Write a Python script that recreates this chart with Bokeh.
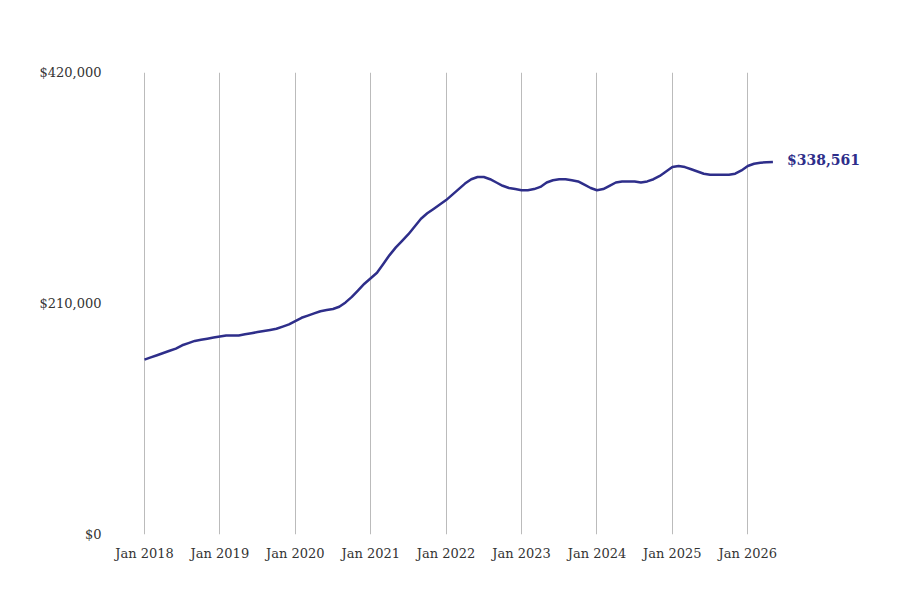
from bokeh.plotting import figure
from bokeh.models import Range1d, FixedTicker, Label, NumeralTickFormatter
from bokeh.embed import file_html
from bokeh.resources import INLINE

years = list(range(2018, 2027))
tick_labels = {y: f"Jan {y}" for y in years}
values_k = [
 159,161,163,165,167,169,172,174,176,177,178,179,
 180,181,181,181,182,183,184,185,186,187,189,191,
 194,197,199,201,203,204,205,207,211,216,222,228,
 233,238,246,254,261,267,273,280,287,292,296,300,
 304,309,314,319,323,325,325,323,320,317,315,314,
 313,313,314,316,320,322,323,323,322,321,318,315,
 313,314,317,320,321,321,321,320,321,323,326,330,
 334,335,334,332,330,328,327,327,327,327,328,331,
 335,337,338,338.3,338.561]
values = [v * 1000 for v in values_k]
xs = [2018 + i / 12 for i in range(len(values))]
last_label = "$338,561"
title_text = "Home Values in Downey, ID"
source_text = "Source: Zillow. Data represents monthly typical home value"

FONT = "DejaVu Serif"
p = figure(width=884, height=584, output_backend="svg", toolbar_location=None,
           x_range=Range1d(2017.576, 2027.76), y_range=Range1d(0, 420000),
           min_border_left=112, min_border_right=4, min_border_top=72, min_border_bottom=50)
p.outline_line_color = None

p.line(xs, values, line_color="#2e2e8a", line_width=2.5)
p.add_layout(Label(x=xs[-1], y=values[-1], text=last_label, x_offset=14, y_offset=-6,
                   text_font=FONT, text_font_size="14px", text_font_style="bold",
                   text_color="#2e2e8a"))
p.add_layout(Label(x=349, y=491, x_units="screen", y_units="screen", text=title_text,
                   text_align="center", text_baseline="middle", text_font=FONT,
                   text_font_size="25px", text_font_style="bold", text_color="black"))
p.add_layout(Label(x=-13, y=-48, x_units="screen", y_units="screen", text=source_text,
                   text_align="left", text_baseline="middle", text_font=FONT,
                   text_font_size="14px", text_color="black"))

p.xaxis.ticker = FixedTicker(ticks=years)
p.xaxis.major_label_overrides = tick_labels
p.yaxis.ticker = FixedTicker(ticks=[0, 210000, 420000])
p.yaxis.formatter = NumeralTickFormatter(format="$0,0")
for ax in (p.xaxis, p.yaxis):
    ax.axis_line_color = None
    ax.major_tick_line_color = None
    ax.minor_tick_line_color = None
    ax.major_label_text_font = FONT
    ax.major_label_text_font_size = "13px"
    ax.major_label_text_color = "#333333"
p.ygrid.grid_line_color = None
p.xgrid.grid_line_color = "#bbbbbb"

open("out.html", "w").write(file_html(p, INLINE))
